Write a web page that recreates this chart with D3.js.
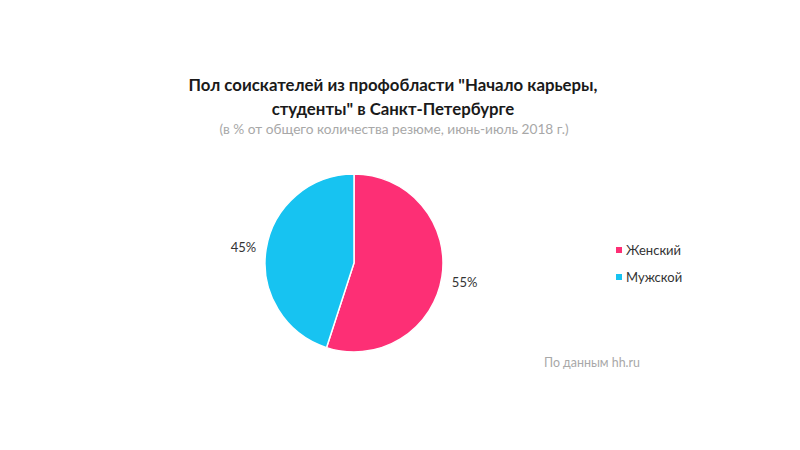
<!DOCTYPE html>
<html>
<head>
<meta charset="utf-8">
<script src="https://cdn.jsdelivr.net/npm/d3@7"></script>
<style>
  body { margin: 0; background: #fff; }
  svg text { font-family: Lato, "Open Sans", sans-serif; }
</style>
</head>
<body>
<svg id="chart" width="800" height="450"></svg>
<script>
// data
const categories = ["Женский", "Мужской"];
const values = [55, 45];
const colors = ["#fd2f75", "#17c3f1"];

const titleLines = ["Пол соискателей из профобласти \"Начало карьеры,", "студенты\" в Санкт-Петербурге"];
const subtitle = "(в % от общего количества резюме, июнь-июль 2018 г.)";
const source = "По данным hh.ru";

const svg = d3.select("#chart");

svg.selectAll("text.title")
  .data(titleLines)
  .enter()
  .append("text")
  .attr("class", "title")
  .attr("x", 393)
  .attr("y", function(d, i) { return 91 + i * 23.5; })
  .attr("text-anchor", "middle")
  .style("font-size", "16.8px")
  .style("font-weight", "bold")
  .style("fill", "#1a1a1a")
  .text(function(d) { return d; });

svg.append("text")
  .attr("x", 394)
  .attr("y", 134)
  .attr("text-anchor", "middle")
  .style("font-size", "13.7px")
  .style("fill", "#a8a8a8")
  .text(subtitle);

// pie
const cx = 354, cy = 263, r = 89;
const pie = d3.pie().sort(null).value(function(d) { return d; });
const arc = d3.arc().innerRadius(0).outerRadius(r);
const arcs = pie(values);

const g = svg.append("g").attr("transform", "translate(" + cx + "," + cy + ")");

g.selectAll("path")
  .data(arcs)
  .enter()
  .append("path")
  .attr("d", arc)
  .attr("fill", function(d, i) { return colors[i]; })
  .attr("stroke", "#fff")
  .attr("stroke-width", 1.5);

const labelArc = d3.arc().innerRadius(r + 23).outerRadius(r + 23);
g.selectAll("text.lbl")
  .data(arcs)
  .enter()
  .append("text")
  .attr("class", "lbl")
  .attr("transform", function(d) {
    const c = labelArc.centroid(d);
    return "translate(" + c[0] + "," + (c[1] + 2) + ")";
  })
  .attr("text-anchor", "middle")
  .attr("dy", "0.35em")
  .style("font-size", "13px")
  .style("fill", "#333")
  .text(function(d) { return d.data + "%"; });

// legend
const legend = svg.selectAll("g.leg")
  .data(categories)
  .enter()
  .append("g")
  .attr("class", "leg")
  .attr("transform", function(d, i) { return "translate(616," + (250 + i * 27) + ")"; });

legend.append("rect")
  .attr("x", 0)
  .attr("y", -3)
  .attr("width", 6)
  .attr("height", 6)
  .attr("fill", function(d, i) { return colors[i]; });

legend.append("text")
  .attr("x", 10)
  .attr("dy", "0.35em")
  .style("font-size", "13px")
  .style("fill", "#333")
  .text(function(d) { return d; });

svg.append("text")
  .attr("x", 544)
  .attr("y", 367)
  .style("font-size", "12.4px")
  .style("fill", "#a8a8a8")
  .text(source);
</script>
</body>
</html>
